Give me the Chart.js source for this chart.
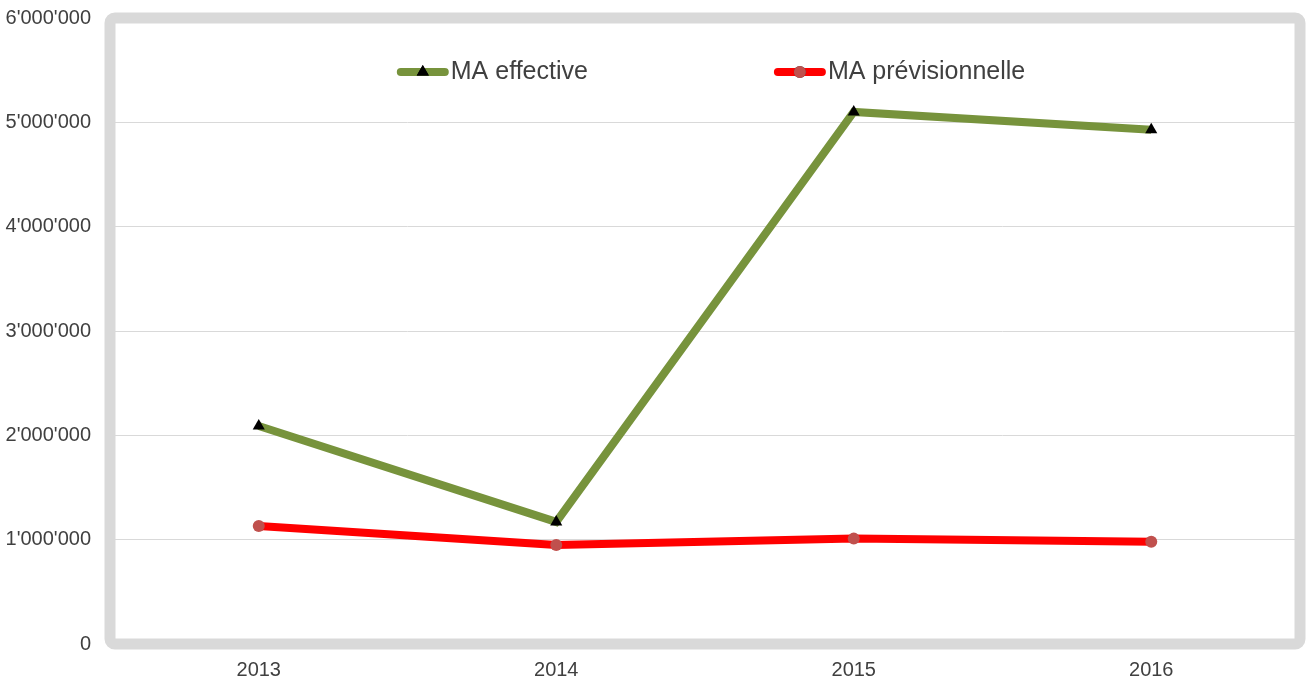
<!DOCTYPE html>
<html>
<head>
<meta charset="utf-8">
<script src="https://cdn.jsdelivr.net/npm/chart.js@4"></script>
<style>
  html, body { margin: 0; padding: 0; background: #ffffff; }
  #wrap { width: 1307px; height: 684px; }
</style>
</head>
<body>
<div id="wrap"><canvas id="maChart" width="1307" height="684"></canvas></div>
<script>
var years = ['2013', '2014', '2015', '2016'];
var maEffective = [2090000, 1170000, 5100000, 4930000];
var maPrevisionnelle = [1130000, 950000, 1010000, 980000];
var yTicks = [0, 1000000, 2000000, 3000000, 4000000, 5000000, 6000000];

var textColor = '#404040';
var fontFamily = '"Liberation Sans", Arial, sans-serif';

function swissFormat(v) {
  return String(v).replace(/\B(?=(\d{3})+(?!\d))/g, "'");
}

// grey rounded frame around the plot area
var framePlugin = {
  id: 'frame',
  beforeDatasetsDraw: function(chart) {
    var a = chart.chartArea, ctx = chart.ctx;
    ctx.save();
    ctx.strokeStyle = '#d9d9d9';
    ctx.lineWidth = 11;
    ctx.beginPath();
    ctx.roundRect(a.left, a.top, a.right - a.left, a.bottom - a.top, 5);
    ctx.stroke();
    ctx.restore();
  }
};

// legend drawn inside the plot area, line sample + marker like Excel
var legendPlugin = {
  id: 'insideLegend',
  afterDraw: function(chart) {
    var ctx = chart.ctx, a = chart.chartArea;
    var sample = 52, gap = 186;
    ctx.save();
    ctx.font = '25px ' + fontFamily;
    ctx.textBaseline = 'middle';
    var items = chart.data.datasets.map(function(ds) {
      return { ds: ds, w: sample + 2 + ctx.measureText(ds.label).width };
    });
    var total = items.reduce(function(s, it) { return s + it.w; }, 0) + gap * (items.length - 1);
    var x = (a.left + a.right) / 2 - total / 2 + 6;
    var y = 72;
    items.forEach(function(it) {
      var ds = it.ds;
      ctx.strokeStyle = ds.borderColor;
      ctx.lineWidth = 8;
      ctx.lineCap = 'round';
      ctx.beginPath();
      ctx.moveTo(x + 4, y);
      ctx.lineTo(x + sample - 4, y);
      ctx.stroke();
      Chart.helpers.drawPoint(ctx, {
        pointStyle: ds.pointStyle,
        radius: ds.pointRadius,
        borderWidth: 0,
        rotation: 0
      }, x + sample / 2, y);
      ctx.fillStyle = ds.pointBackgroundColor;
      ctx.fill();
      ctx.fillStyle = textColor;
      ctx.textAlign = 'left';
      ctx.fillText(ds.label, x + sample + 2, y);
      x += it.w + gap;
    });
    ctx.restore();
  }
};

var ctx = document.getElementById('maChart').getContext('2d');

new Chart(ctx, {
  type: 'line',
  data: {
    labels: years,
    datasets: [{
      label: 'MA effective',
      data: maEffective,
      borderColor: '#77933c',
      borderWidth: 8,
      pointStyle: 'triangle',
      pointRadius: 7,
      pointBackgroundColor: '#000000',
      pointBorderWidth: 0,
      tension: 0
    }, {
      label: 'MA prévisionnelle',
      data: maPrevisionnelle,
      borderColor: '#ff0000',
      borderWidth: 8,
      pointStyle: 'circle',
      pointRadius: 6,
      pointBackgroundColor: '#c0504d',
      pointBorderWidth: 0,
      tension: 0
    }]
  },
  options: {
    responsive: false,
    animation: false,
    layout: { padding: { top: 18, right: 5, bottom: 2, left: 0 } },
    plugins: {
      legend: { display: false },
      tooltip: { enabled: false }
    },
    scales: {
      x: {
        offset: true,
        grid: { display: false, drawTicks: false },
        border: { display: false },
        afterFit: function(scale) { scale.height = 38; },
        ticks: { color: textColor, font: { family: fontFamily, size: 20 }, padding: 14 }
      },
      y: {
        min: 0,
        max: 6000000,
        afterBuildTicks: function(scale) {
          scale.ticks = yTicks.map(function(v) { return { value: v }; });
        },
        afterFit: function(scale) {
          scale.width = 110;
          scale.paddingTop = 0;
          scale.paddingBottom = 0;
        },
        grid: { color: '#d9d9d9', lineWidth: 1, drawTicks: false },
        border: { display: false },
        ticks: {
          color: textColor,
          font: { family: fontFamily, size: 20 },
          padding: 19,
          callback: function(v) { return swissFormat(v); }
        }
      }
    }
  },
  plugins: [framePlugin, legendPlugin]
});
</script>
</body>
</html>
